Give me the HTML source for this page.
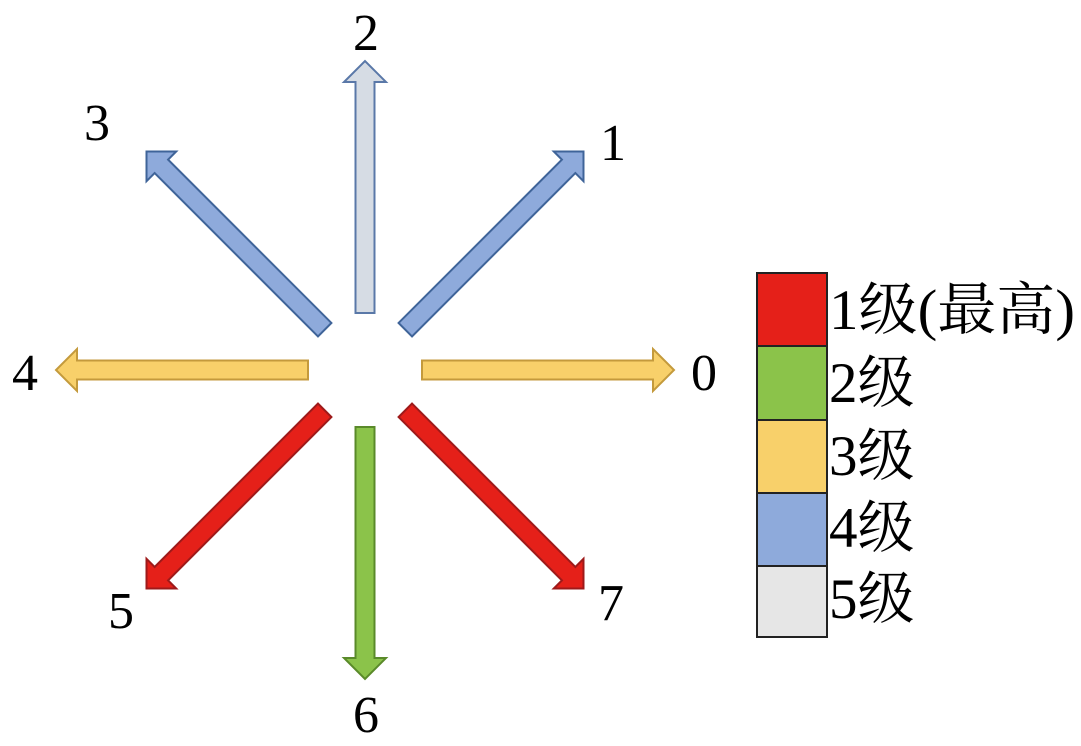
<!DOCTYPE html>
<html><head><meta charset="utf-8"><style>
html,body{margin:0;padding:0;background:#fff;}
svg{display:block}
text{font-family:"Liberation Serif","Noto Serif CJK SC",serif;fill:#000;}
</style></head><body>
<svg width="1081" height="746" viewBox="0 0 1081 746" xmlns="http://www.w3.org/2000/svg">
<defs>
<polygon id="a" points="57,-9.5 288,-9.5 288,-21 309,0 288,21 288,9.5 57,9.5"/>
</defs>
<g transform="translate(365,370)" stroke-width="2" stroke-linejoin="miter">
<use href="#a" transform="rotate(0)" fill="#f8d06a" stroke="#c49a3c"/>
<use href="#a" transform="rotate(-45)" fill="#8eaadb" stroke="#3f6499"/>
<use href="#a" transform="rotate(-90)" fill="#d6dce4" stroke="#5a78a8"/>
<use href="#a" transform="rotate(-135)" fill="#8eaadb" stroke="#3f6499"/>
<use href="#a" transform="rotate(180)" fill="#f8d06a" stroke="#c49a3c"/>
<use href="#a" transform="rotate(135)" fill="#e52019" stroke="#9e1a1a"/>
<use href="#a" transform="rotate(90)" fill="#8bc34a" stroke="#5a8a2a"/>
<use href="#a" transform="rotate(45)" fill="#e52019" stroke="#9e1a1a"/>
</g>
<g font-size="52" text-anchor="middle">
<text x="366" y="50">2</text>
<text x="613" y="160">1</text>
<text x="97" y="140">3</text>
<text x="25" y="390">4</text>
<text x="704" y="390">0</text>
<text x="121" y="628">5</text>
<text x="366" y="732">6</text>
<text x="611" y="620">7</text>
</g>
<g stroke="#222" stroke-width="2">
<rect x="757" y="273" width="70" height="73" fill="#e52019"/>
<rect x="757" y="346" width="70" height="74" fill="#8bc34a"/>
<rect x="757" y="420" width="70" height="73" fill="#f8d06a"/>
<rect x="757" y="493" width="70" height="73" fill="#8eaadb"/>
<rect x="757" y="566" width="70" height="71" fill="#e6e6e6"/>
</g>
<g font-size="57">
<text x="829" y="329" textLength="246" lengthAdjust="spacingAndGlyphs">1级(最高)</text>
<text x="829" y="402">2级</text>
<text x="829" y="475">3级</text>
<text x="829" y="547">4级</text>
<text x="829" y="618">5级</text>
</g>
</svg>
</body></html>
